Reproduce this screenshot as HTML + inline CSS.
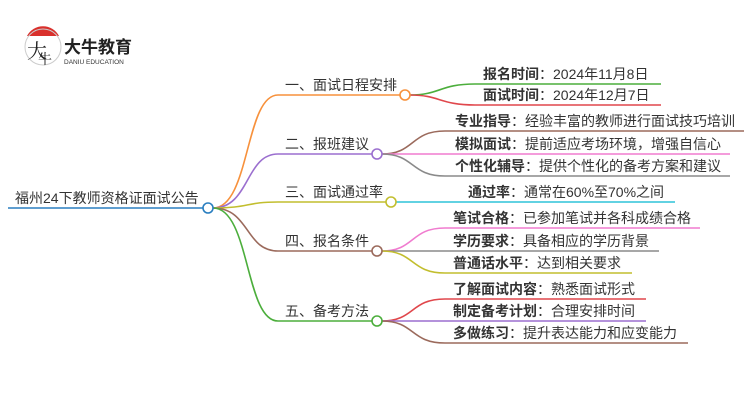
<!DOCTYPE html>
<html><head><meta charset="utf-8"><style>
body{margin:0;width:750px;height:410px;background:#fff;overflow:hidden}
svg text{font-family:"Liberation Sans","Noto Sans CJK SC",sans-serif;font-size:14px;fill:#333}
.b{font-weight:bold}
</style></head><body>
<svg width="750" height="410" viewBox="0 0 750 410" xmlns="http://www.w3.org/2000/svg">
<!-- logo -->
<path d="M27 36 A18 18 0 0 1 59 36 Z" fill="#d9302c"/>
<circle cx="43" cy="47" r="18" fill="none" stroke="#ccc" stroke-width="1"/>
<text x="27" y="58" style="font-size:20px;fill:#222;font-family:'Noto Serif CJK SC',serif">大</text>
<text x="38" y="64" style="font-size:14px;fill:#222;font-family:'Noto Serif CJK SC',serif">牛</text>
<text x="64" y="53" class="b" style="font-size:17px;fill:#222">大牛教育</text>
<text x="64" y="64" style="font-size:6.5px;fill:#333">DANIU EDUCATION</text>

<g fill="none" stroke-width="1.6">
<!-- root -->
<path d="M8 208 H203" stroke="#2a7fc0"/>
<path d="M213 208 C250 208 245 95 278 95 H400" stroke="#f7913c"/>
<path d="M213 208 C250 208 245 154 278 154 H372" stroke="#9b6fcf"/>
<path d="M213 208 C250 208 245 202 278 202 H386" stroke="#c2be2e"/>
<path d="M213 208 C250 208 245 251 278 251 H372" stroke="#9b6a5c"/>
<path d="M213 208 C250 208 245 321 278 321 H372" stroke="#4cae3c"/>
<!-- leaves 1 -->
<path d="M410 95 C440 95 440 84 475 84 H661" stroke="#4cae3c"/>
<path d="M410 95 C440 95 440 105 475 105 H661" stroke="#e0474c"/>
<!-- leaves 2 -->
<path d="M382 154 C415 154 410 131 445 131 H744" stroke="#9b6a5c"/>
<path d="M382 154 H730" stroke="#f07ccf"/>
<path d="M382 154 C415 154 410 176 445 176 H730" stroke="#8a8a8a"/>
<!-- leaves 3 -->
<path d="M396 202 H675" stroke="#2ec4d9"/>
<!-- leaves 4 -->
<path d="M382 251 C415 251 410 228 445 228 H700" stroke="#f07ccf"/>
<path d="M382 251 H659" stroke="#8a8a8a"/>
<path d="M382 251 C415 251 410 273 445 273 H632" stroke="#c2be2e"/>
<!-- leaves 5 -->
<path d="M382 321 C415 321 410 299 445 299 H646" stroke="#e0474c"/>
<path d="M382 321 H646" stroke="#9b6fcf"/>
<path d="M382 321 C415 321 410 343 445 343 H688" stroke="#9b6a5c"/>
</g>
<g fill="#fff" stroke-width="1.6">
<circle cx="208" cy="208" r="5" stroke="#2a7fc0"/>
<circle cx="405" cy="95" r="5" stroke="#f7913c"/>
<circle cx="377" cy="154" r="5" stroke="#9b6fcf"/>
<circle cx="391" cy="202" r="5" stroke="#c2be2e"/>
<circle cx="377" cy="251" r="5" stroke="#9b6a5c"/>
<circle cx="377" cy="321" r="5" stroke="#4cae3c"/>
</g>
<text x="15" y="203">福州24下教师资格证面试公告</text>
<text x="285" y="90">一、面试日程安排</text>
<text x="285" y="149">二、报班建议</text>
<text x="285" y="197">三、面试通过率</text>
<text x="285" y="246">四、报名条件</text>
<text x="285" y="316">五、备考方法</text>

<text x="483" y="79"><tspan class="b">报名时间</tspan>：2024年11月8日</text>
<text x="483" y="100"><tspan class="b">面试时间</tspan>：2024年12月7日</text>
<text x="455" y="126"><tspan class="b">专业指导</tspan>：经验丰富的教师进行面试技巧培训</text>
<text x="455" y="149"><tspan class="b">模拟面试</tspan>：提前适应考场环境，增强自信心</text>
<text x="455" y="171"><tspan class="b">个性化辅导</tspan>：提供个性化的备考方案和建议</text>
<text x="468" y="197"><tspan class="b">通过率</tspan>：通常在60%至70%之间</text>
<text x="453" y="223"><tspan class="b">笔试合格</tspan>：已参加笔试并各科成绩合格</text>
<text x="453" y="246"><tspan class="b">学历要求</tspan>：具备相应的学历背景</text>
<text x="453" y="268"><tspan class="b">普通话水平</tspan>：达到相关要求</text>
<text x="453" y="294"><tspan class="b">了解面试内容</tspan>：熟悉面试形式</text>
<text x="453" y="316"><tspan class="b">制定备考计划</tspan>：合理安排时间</text>
<text x="453" y="338"><tspan class="b">多做练习</tspan>：提升表达能力和应变能力</text>
</svg>
</body></html>
